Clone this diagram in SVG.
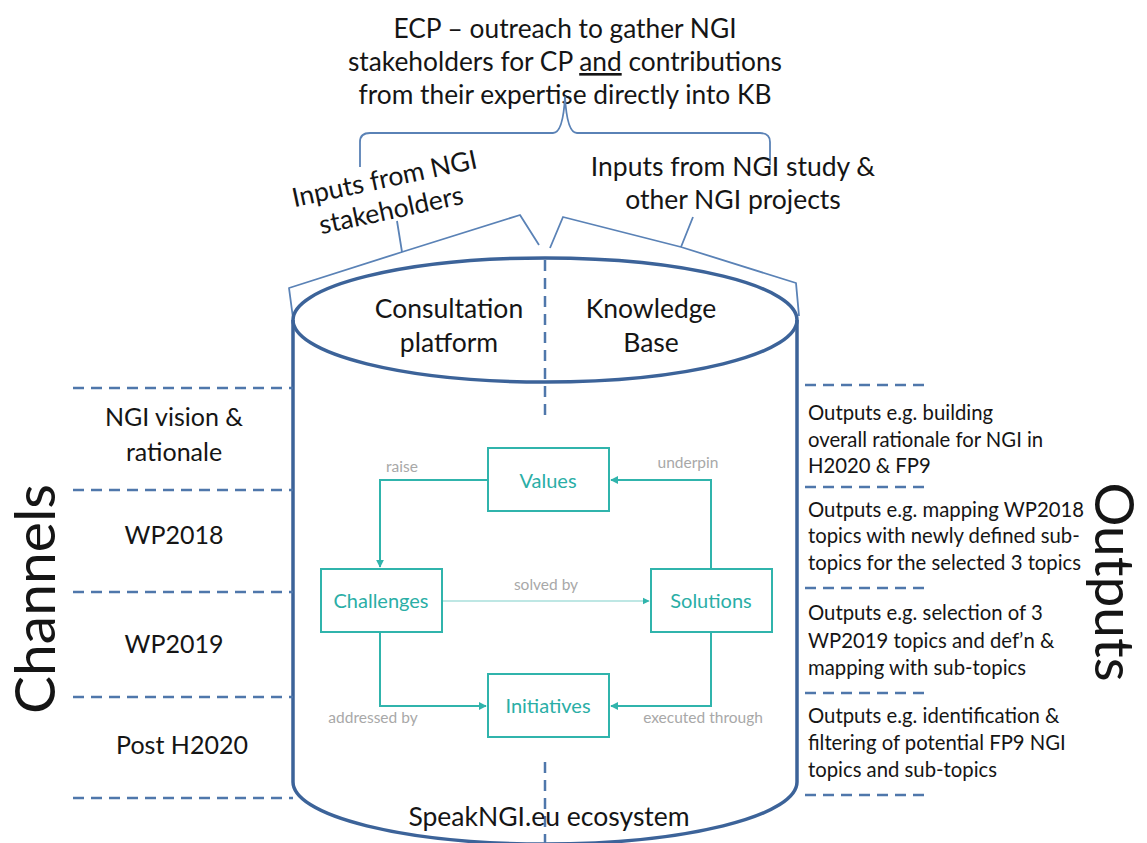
<svg xmlns="http://www.w3.org/2000/svg" width="1147" height="843" viewBox="0 0 1147 843">
<defs>
<style>
text{font-family:Lato,"Liberation Sans",sans-serif;fill:#151515}
.t26{font-size:26.3px;text-anchor:middle}
.t25{font-size:26.5px;text-anchor:middle}
.t24{font-size:26.5px;text-anchor:middle}
.t23{font-size:25px;text-anchor:middle}
.out{font-size:20.3px}
.big{font-size:57px;text-anchor:middle}
.box{fill:#fff;stroke:#30B4AC;stroke-width:2}
.bl{font-size:20px;text-anchor:middle;fill:#2AAEA6}
.gl{font-size:15.5px;text-anchor:middle;fill:#A8A8A8}
.cyl{fill:none;stroke:#3C6399;stroke-width:3.5}
.dash{fill:none;stroke:#4F77AB;stroke-width:2.5;stroke-dasharray:11 7}
.brace{fill:none;stroke:#5A82B6;stroke-width:1.8;stroke-linejoin:round}
.con{fill:none;stroke:#30B4AC;stroke-width:2}
.thin{fill:none;stroke:#7FD0CA;stroke-width:1.2}
</style>
<marker id="ah" viewBox="0 0 10 10" refX="9" refY="5" markerWidth="4" markerHeight="4" orient="auto" markerUnits="strokeWidth">
<path d="M0,0 L10,5 L0,10 z" fill="#30B4AC"/>
</marker>
<marker id="ah2" viewBox="0 0 10 10" refX="9" refY="5" markerWidth="6" markerHeight="6" orient="auto" markerUnits="strokeWidth">
<path d="M0,0 L10,5 L0,10 z" fill="#30B4AC"/>
</marker>
</defs>
<rect width="1147" height="843" fill="#fff"/>

<g id="title">
<text class="t26" x="565" y="38">ECP – outreach to gather NGI</text>
<text class="t26" x="565" y="71">stakeholders for CP <tspan text-decoration="underline">and</tspan> contributions</text>
<text class="t26" x="565" y="104">from their expertise directly into KB</text>
</g>

<g id="braces">
<path class="brace" d="M360,167 V142 Q360,133 370,133 H553 Q563,133 565,97 Q567,133 577,133 H760 Q770,133 770,142 V165"/>
<path class="brace" d="M293,318 L289,288 L402,252 L397,221 M402,252 L520,215 L539,245"/>
<path class="brace" d="M550,248 L563,217 L681,247 L693,217 M681,247 L796,283 L799,316"/>
</g>

<g id="inputs-stakeholders" transform="rotate(-12 390 195)">
<text class="t25" x="388" y="187">Inputs from NGI</text>
<text class="t25" x="388" y="219">stakeholders</text>
</g>
<g id="inputs-study">
<text class="t25" x="733" y="176">Inputs from NGI study &amp;</text>
<text class="t25" x="733" y="209">other NGI projects</text>
</g>

<g id="cylinder">
<path class="cyl" d="M293,320 V782 A252,62 0 0 0 797,782 V320"/>
<ellipse class="cyl" cx="545" cy="320" rx="252" ry="62"/>
<path class="dash" d="M545,260 V420 M545,762 V843" stroke-width="2"/>
<text class="t24" x="449" y="318">Consultation</text>
<text class="t24" x="449" y="352">platform</text>
<text class="t24" x="651" y="318">Knowledge</text>
<text class="t24" x="651" y="352">Base</text>
<text class="t24" x="549" y="826">SpeakNGI.eu ecosystem</text>
</g>

<g id="channels">
<path class="dash" d="M73,388 H293 M73,490 H293 M73,592 H293 M73,697 H293 M73,798 H293"/>
<text class="t23" x="174" y="426">NGI vision &amp;</text>
<text class="t23" x="174" y="461">rationale</text>
<text class="t23" x="174" y="544">WP2018</text>
<text class="t23" x="174" y="653">WP2019</text>
<text class="t23" x="182" y="754">Post H2020</text>
<text class="big" transform="translate(55 599) rotate(-90)" x="0" y="0">Channels</text>
</g>

<g id="outputs">
<path class="dash" d="M805,385 H927 M805,487 H927 M805,588 H927 M805,693 H927 M805,795 H927"/>
<text class="out" x="808" y="420">Outputs e.g. building</text>
<text class="out" x="808" y="447">overall rationale for NGI in</text>
<text class="out" x="808" y="473">H2020 &amp; FP9</text>
<text class="out" x="808" y="517">Outputs e.g. mapping WP2018</text>
<text class="out" x="808" y="543">topics with newly defined sub-</text>
<text class="out" x="808" y="570">topics for the selected 3 topics</text>
<text class="out" x="808" y="620">Outputs e.g. selection of 3</text>
<text class="out" x="808" y="648">WP2019 topics and def’n &amp;</text>
<text class="out" x="808" y="675">mapping with sub-topics</text>
<text class="out" x="808" y="723">Outputs e.g. identification &amp;</text>
<text class="out" x="808" y="750">filtering of potential FP9 NGI</text>
<text class="out" x="808" y="777">topics and sub-topics</text>
<text class="big" transform="translate(1095 582) rotate(90)" x="0" y="0" style="font-size:55px">Outputs</text>
</g>

<g id="connectors">
<path class="con" d="M488,480 H380 V567" marker-end="url(#ah)"/>
<path class="con" d="M711,569 V480 H611" marker-end="url(#ah)"/>
<path class="thin" d="M442,601 H649" marker-end="url(#ah2)"/>
<path class="con" d="M380,632 V706 H486" marker-end="url(#ah)"/>
<path class="con" d="M711,632 V706 H611" marker-end="url(#ah)"/>
<text class="gl" x="402" y="472">raise</text>
<text class="gl" x="688" y="468">underpin</text>
<text class="gl" x="546" y="590">solved by</text>
<text class="gl" x="373" y="723">addressed by</text>
<text class="gl" x="703" y="723">executed through</text>
</g>

<g id="values">
<rect class="box" x="488" y="448" width="121" height="63"/>
<text class="bl" x="548" y="488">Values</text>
</g>
<g id="challenges">
<rect class="box" x="321" y="569" width="121" height="63"/>
<text class="bl" x="381" y="608">Challenges</text>
</g>
<g id="solutions">
<rect class="box" x="651" y="569" width="121" height="63"/>
<text class="bl" x="711" y="608">Solutions</text>
</g>
<g id="initiatives">
<rect class="box" x="488" y="674" width="121" height="63"/>
<text class="bl" x="548" y="713">Initiatives</text>
</g>
</svg>
